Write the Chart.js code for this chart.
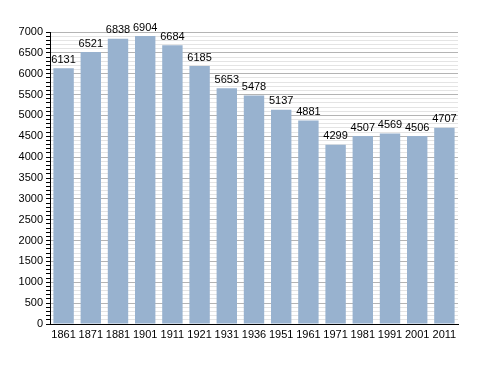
<!DOCTYPE html>
<html>
<head>
<meta charset="utf-8">
<script src="https://cdn.jsdelivr.net/npm/chart.js@4"></script>
<style>
  html, body { margin: 0; padding: 0; background: #fff; }
  canvas { display: block; }
</style>
</head>
<body>
<canvas id="popChart" width="488" height="373"></canvas>
<script>
const years = ["1861", "1871", "1881", "1901", "1911", "1921", "1931", "1936", "1951", "1961", "1971", "1981", "1991", "2001", "2011"];
const population = [6131, 6521, 6838, 6904, 6684, 6185, 5653, 5478, 5137, 4881, 4299, 4507, 4569, 4506, 4707];

const valueLabels = {
  id: "valueLabels",
  afterDatasetsDraw(chart) {
    const ctx = chart.ctx;
    const meta = chart.getDatasetMeta(0);
    ctx.save();
    ctx.font = "11px 'Liberation Sans', Arial, sans-serif";
    ctx.fillStyle = "#000";
    ctx.textAlign = "center";
    ctx.textBaseline = "bottom";
    meta.data.forEach(function (bar, i) {
      ctx.fillText(String(population[i]), bar.x, bar.y - 3);
    });
    ctx.restore();
  },
};

const ctx = document.getElementById("popChart").getContext("2d");
new Chart(ctx, {
  type: "bar",
  data: {
    labels: years,
    datasets: [
      {
        data: population,
        backgroundColor: "#98b2cf",
        barPercentage: 0.75,
        categoryPercentage: 1,
      },
    ],
  },
  options: {
    responsive: false,
    animation: false,
    layout: { padding: { top: 32, right: 30, left: 0, bottom: 0 } },
    plugins: {
      legend: { display: false },
      tooltip: { enabled: false },
    },
    scales: {
      x: {
        grid: { display: true, drawOnChartArea: false, drawTicks: false },
        border: { display: true, color: "#000", width: 1 },
        ticks: {
          color: "#000",
          padding: 4,
          maxRotation: 0,
          autoSkip: false,
          font: { family: "'Liberation Sans', Arial, sans-serif", size: 11 },
        },
        afterFit(scale) { scale.height = 49; },
      },
      y: {
        min: 0,
        max: 7000,
        border: { display: true, color: "#000", width: 1 },
        grid: {
          color: function (c) { return c.tick && c.tick.value % 500 === 0 ? "#b4b4b4" : "#e4e4e4"; },
          tickColor: "#000",
          tickLength: 4,
        },
        ticks: {
          stepSize: 100,
          autoSkip: false,
          color: "#000",
          padding: 3,
          font: { family: "'Liberation Sans', Arial, sans-serif", size: 11 },
          callback: function (v) { return v % 500 === 0 ? v : ""; },
        },
        afterFit(scale) { scale.width = 50; },
      },
    },
  },
  plugins: [valueLabels],
});
</script>
</body>
</html>
